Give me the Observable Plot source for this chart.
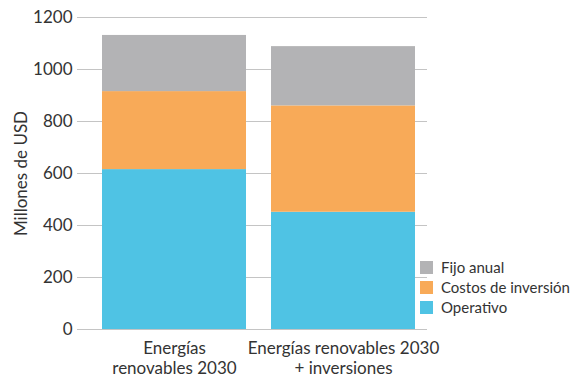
<!DOCTYPE html>
<html><head><meta charset="utf-8">
<script src="https://cdn.jsdelivr.net/npm/d3@7"></script>
<script src="https://cdn.jsdelivr.net/npm/@observablehq/plot@0.6"></script>
<style>
body{margin:0;background:#fff;font-family:Lato,sans-serif;}
#wrap{position:relative;width:578px;height:378px;}
#legend{position:absolute;left:420px;top:257px;font:15px Lato,sans-serif;color:#333;}
#legend div{display:flex;align-items:center;height:20px;}
#legend span.sw{display:inline-block;width:13px;height:13px;margin-right:8px;}
</style></head>
<body><div id="wrap"><div id="legend"></div></div>
<script>
const scenarios = ["Energías\nrenovables 2030", "Energías renovables 2030\n+ inversiones"];
const components = ["Operativo", "Costos de inversión", "Fijo anual"];
const operativo = [615, 451];
const costosInversion = [300, 409];
const fijoAnual = [216, 228];
const colors = ["#4fc3e4", "#f8aa58", "#b3b3b5"];
const yTicks = [0, 200, 400, 600, 800, 1000, 1200];

const series = [operativo, costosInversion, fijoAnual];
const data = [];
scenarios.forEach((s, i) => components.forEach((c, j) => data.push({scenario: s, component: c, value: series[j][i]})));

const chart = Plot.plot({
  width: 578, height: 378,
  marginLeft: 77, marginRight: 151, marginTop: 17, marginBottom: 49,
  style: {fontFamily: "Lato, sans-serif", fontSize: "17px", color: "#333", background: "#fff"},
  x: {domain: scenarios, range: [101, 416], paddingInner: 0.147, paddingOuter: 0, label: null},
  y: {domain: [0, 1200], ticks: yTicks, label: "Millones de USD"},
  color: {domain: components, range: colors},
  marks: [
    Plot.ruleY(yTicks, {stroke: "#c4c4c4", strokeWidth: 1.2}),
    Plot.barY(data, {x: "scenario", y: "value", fill: "component", order: components}),
    Plot.axisY({ticks: yTicks, tickFormat: d3.format("d"), tickSize: 0, tickPadding: 5, label: "Millones de USD", labelAnchor: "center", labelArrow: "none", labelOffset: 63, fontSize: 17}),
    Plot.axisX({tickSize: 0, tickPadding: 10, label: null, lineHeight: 1.2, fontSize: 17})
  ]
});
document.getElementById("wrap").prepend(chart);
const leg = document.getElementById("legend");
[2, 1, 0].forEach(j => {
  const d = document.createElement("div");
  d.innerHTML = `<span class="sw" style="background:${colors[j]}"></span>${components[j]}`;
  leg.appendChild(d);
});
</script>
</body></html>
